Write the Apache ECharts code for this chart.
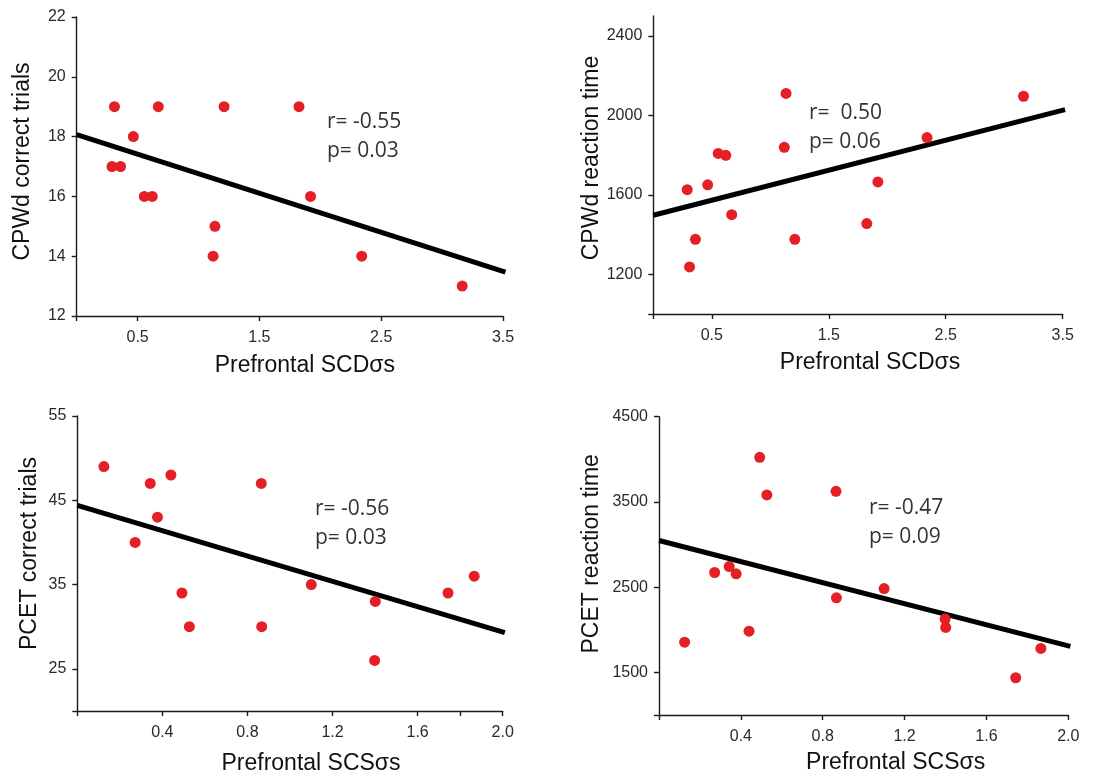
<!DOCTYPE html>
<html>
<head>
<meta charset="utf-8">
<script src="https://cdn.jsdelivr.net/npm/echarts@6/dist/echarts.min.js"></script>
<style>
html,body{margin:0;padding:0;background:#fff;}
#chart{width:1104px;height:776px;}
</style>
</head>
<body>
<div id="chart"></div>
<script>
// ---- data ----
const scdX = [0.29, 0.31, 0.36, 0.465, 0.555, 0.62, 0.67, 1.12, 1.135, 1.21, 1.825, 1.92, 2.34, 3.165];
const cpwdCorrect = [17, 19, 17, 18, 16, 16, 19, 14, 15, 19, 19, 16, 14, 13];
const cpwdRT = [1626, 1237, 1376, 1650, 1808, 1799, 1500, 1839, 2110, 1376, 1455, 1665, 1888, 2096];

const scsX = [0.125, 0.272, 0.343, 0.377, 0.44, 0.492, 0.527, 0.865, 0.867, 1.10, 1.398, 1.401, 1.743, 1.866];
const pcetCorrect = [49, 40, 47, 43, 48, 34, 30, 47, 30, 35, 26, 33, 34, 36];
const pcetRT = [1855, 2672, 2742, 2656, 1984, 4023, 3582, 3625, 2375, 2484, 2125, 2027, 1437, 1781];

// regression line end points
const fitCPWdCorrect = [[0, 18.07], [3.52, 13.47]];
const fitCPWdRT = [[0, 1497], [3.52, 2029]];
const fitPCETCorrect = [[0, 44.4], [2.01, 29.3]];
const fitPCETRT = [[0, 3047], [2.01, 1805]];

// axis ticks / labels
const scdTicks = [0, 0.5, 1.5, 2.5, 3.5];
const scdLabels = [0.5, 1.5, 2.5, 3.5];
const scsTicksL = [0, 0.4, 0.8, 1.2, 1.6, 1.8, 2.0];
const scsTicksR = [0, 0.4, 0.8, 1.2, 1.6, 2.0];
const scsLabels = [0.4, 0.8, 1.2, 1.6, 2.0];
const yCorrectTicks = [12, 14, 16, 18, 20, 22];
const yRTTicks = [1000, 1200, 1600, 2000, 2400];
const yRTLabels = [1200, 1600, 2000, 2400];
const yPcetTicks = [20, 25, 35, 45, 55];
const yPcetLabels = [25, 35, 45, 55];
const yPcetRTTicks = [1000, 1500, 2500, 3500, 4500];
const yPcetRTLabels = [1500, 2500, 3500, 4500];

const statsText = ['r= -0.55\np= 0.03', 'r=  0.50\np= 0.06', 'r= -0.56\np= 0.03', 'r= -0.47\np= 0.09'];
const xNames = ['Prefrontal SCD\u03c3s', 'Prefrontal SCD\u03c3s', 'Prefrontal SCS\u03c3s', 'Prefrontal SCS\u03c3s'];
const yNames = ['CPWd correct trials', 'CPWd reaction time', 'PCET correct trials', 'PCET reaction time'];

// ---- build ----
const zip = (xs, ys) => xs.map((x, i) => [x, ys[i]]);
const AX = '#1a1a1a';
const LBL = '#2a2a2a';
const tickFont = 'Liberation Sans, Arial, sans-serif';

function fmt(v) {
  if (Math.abs(v) >= 100) return String(Math.round(v));
  if (Number.isInteger(v) && v >= 10) return String(v);
  return v.toFixed(1);
}

function xAxis(gi, min, max, ticks, labels, name, shift, gap) {
  return {
    type: 'value', gridIndex: gi, min: min, max: max,
    name: name, nameLocation: 'middle', nameGap: gap,
    nameTextStyle: {fontFamily: tickFont, fontSize: 23, color: '#111', padding: [0, 0, 0, shift * 2]},
    axisLine: {show: true, onZero: false, lineStyle: {color: AX, width: 1.4}},
    axisTick: {show: true, length: 5, lineStyle: {color: AX, width: 1.4}, customValues: ticks},
    axisLabel: {fontFamily: tickFont, fontSize: 16, color: LBL, margin: 14, customValues: labels, formatter: v => fmt(v)},
    splitLine: {show: false}
  };
}
function yAxis(gi, min, max, ticks, labels, name, shift, gap) {
  return {
    type: 'value', gridIndex: gi, min: min, max: max,
    name: name, nameLocation: 'middle', nameGap: gap,
    nameTextStyle: {fontFamily: tickFont, fontSize: 23, color: '#111', padding: [0, 0, 0, shift * 2]},
    axisLine: {show: true, onZero: false, lineStyle: {color: AX, width: 1.4}},
    axisTick: {show: true, length: 5, lineStyle: {color: AX, width: 1.4}, customValues: ticks},
    axisLabel: {fontFamily: tickFont, fontSize: 16, color: LBL, margin: 11, customValues: labels, formatter: v => fmt(v)},
    splitLine: {show: false}
  };
}
function scatter(i, data) {
  return {type: 'scatter', xAxisIndex: i, yAxisIndex: i, data: data, symbolSize: 11,
    itemStyle: {color: '#e41f26', opacity: 1}, z: 5, silent: true};
}
function fit(i, data) {
  return {type: 'line', xAxisIndex: i, yAxisIndex: i, data: data, symbol: 'none', clip: false,
    lineStyle: {color: '#000', width: 5, cap: 'butt'}, z: 3, silent: true};
}
function stats(txt, left, top) {
  return {type: 'text', left: left, top: top, z: 10,
    style: {text: txt, fontFamily: 'Open Sans', fontSize: 21, lineHeight: 29, fill: '#333'}};
}

const option = {
  animation: false,
  backgroundColor: '#fff',
  grid: [
    {left: 76.7, top: 17, width: 426.3, height: 299},
    {left: 653.3, top: 16, width: 409.4, height: 298},
    {left: 77.3, top: 416, width: 425.4, height: 297},
    {left: 659, top: 416.7, width: 409.3, height: 298.3}
  ],
  xAxis: [
    xAxis(0, 0, 3.5, scdTicks, scdLabels, xNames[0], 15, 38),
    xAxis(1, 0, 3.5, scdTicks, scdLabels, xNames[1], 12, 37),
    xAxis(2, 0, 2.0, scsTicksL, scsLabels, xNames[2], 21, 41),
    xAxis(3, 0, 2.0, scsTicksR, scsLabels, xNames[3], 32, 36)
  ],
  yAxis: [
    yAxis(0, 12, 22, yCorrectTicks, yCorrectTicks, yNames[0], 5, 43),
    yAxis(1, 1000, 2500, yRTTicks, yRTLabels, yNames[1], 7, 50),
    yAxis(2, 20, 55, yPcetTicks, yPcetLabels, yNames[2], 10, 36),
    yAxis(3, 1000, 4500, yPcetRTTicks, yPcetRTLabels, yNames[3], 12, 56)
  ],
  series: [
    fit(0, fitCPWdCorrect), scatter(0, zip(scdX, cpwdCorrect)),
    fit(1, fitCPWdRT), scatter(1, zip(scdX, cpwdRT)),
    fit(2, fitPCETCorrect), scatter(2, zip(scsX, pcetCorrect)),
    fit(3, fitPCETRT), scatter(3, zip(scsX, pcetRT))
  ],
  graphic: [
    stats(statsText[0], 327, 108),
    stats(statsText[1], 809, 99),
    stats(statsText[2], 315, 495),
    stats(statsText[3], 869, 494)
  ]
};

const chart = echarts.init(document.getElementById('chart'), null, {renderer: 'canvas'});
chart.setOption(option);
</script>
</body>
</html>
